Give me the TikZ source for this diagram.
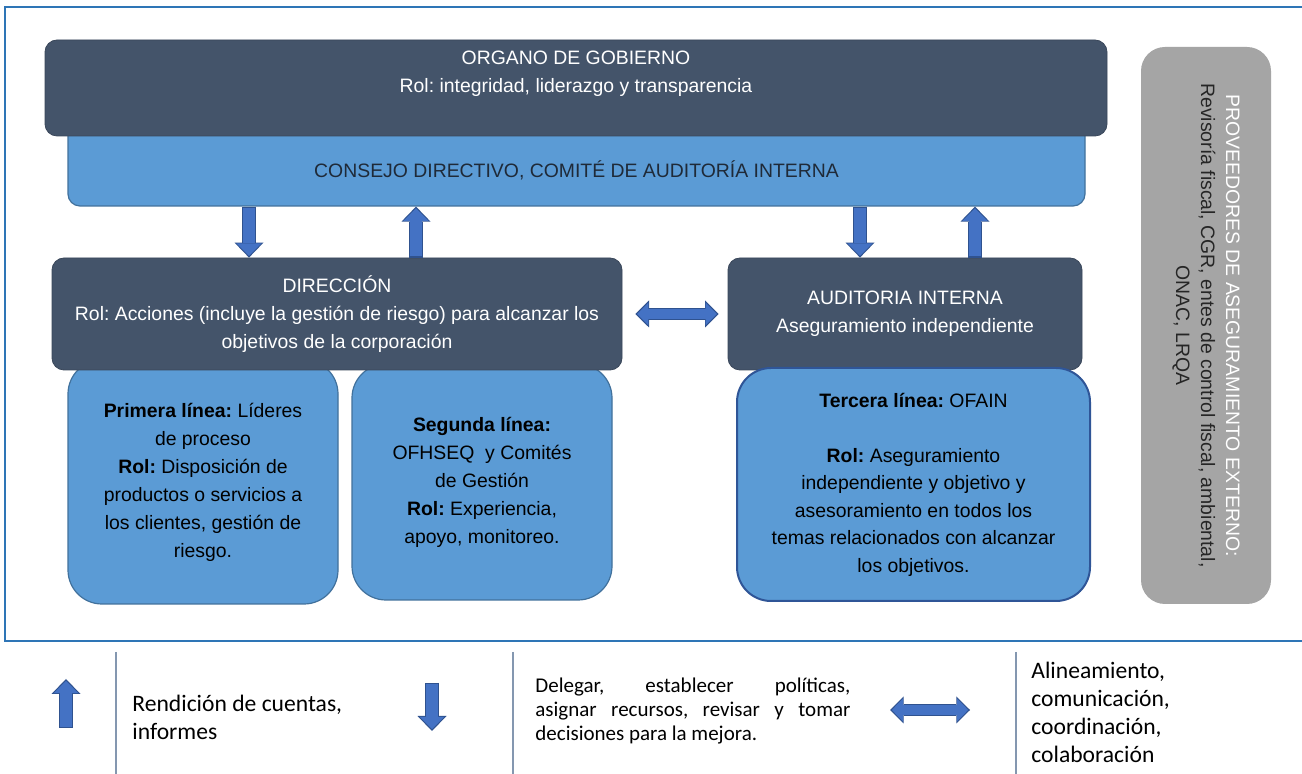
\documentclass[tikz,border=0pt]{standalone}
\usepackage{fontspec}
\setmainfont{Liberation Sans}
\newfontfamily\legendfont{Carlito}
\usetikzlibrary{arrows.meta}
\frenchspacing

\definecolor{slate}{HTML}{44546A}
\definecolor{skyblue}{HTML}{5B9BD5}
\definecolor{skyedge}{HTML}{41719C}
\definecolor{frameblue}{HTML}{2E75B6}
\definecolor{arrfill}{HTML}{4472C4}
\definecolor{arredge}{HTML}{2F528F}
\definecolor{lineblue}{HTML}{2F5597}
\definecolor{boxgray}{HTML}{A5A5A5}
\definecolor{sepgray}{HTML}{8497B0}
\definecolor{inktext}{HTML}{1F2A38}

\tikzset{
  boxfont/.style={font=\fontsize{9.7}{14}\selectfont},
  darkbox/.style={fill=slate, draw=slate!85!black, rounded corners=6pt, inner sep=0pt,
    text=white, align=center, boxfont},
  lightbox/.style={fill=skyblue, draw=skyedge, line width=0.6pt, rounded corners=17pt,
    inner sep=0pt, align=center, boxfont},
  graybox/.style={fill=boxgray, rounded corners=12pt, inner sep=0pt, align=center,
    text=black!85, font=\fontsize{9.7}{12.5}\selectfont},
  legendtext/.style={anchor=west, align=left, inner sep=0pt, font=\legendfont\fontsize{11.8}{14}\selectfont},
  fat/.style={line width=6pt, draw=arrfill, shorten <=0.6pt, shorten >=0.9pt,
    -{Triangle[length=6.2pt,width=12.4pt,line width=0pt]},
    preaction={draw=arredge, line width=7.2pt, shorten <=0pt, shorten >=0pt,
      -{Triangle[length=7.5pt,width=14.5pt,line width=0pt]}}},
  fatboth/.style={line width=5pt, draw=arrfill, shorten <=0.9pt, shorten >=0.9pt,
    {Triangle[length=5.6pt,width=11.4pt,line width=0pt]}-{Triangle[length=5.6pt,width=11.4pt,line width=0pt]},
    preaction={draw=arredge, line width=6.2pt, shorten <=0pt, shorten >=0pt,
      {Triangle[length=6.8pt,width=13.5pt,line width=0pt]}-{Triangle[length=6.8pt,width=13.5pt,line width=0pt]}}},
  sepline/.style={draw=sepgray, line width=0.8pt}
}

\begin{document}
\begin{tikzpicture}[x=0.5pt, y=-0.5pt]

\useasboundingbox (0,0) rectangle (1302,774);
\fill[white] (0,0) rectangle (1302,774);

\draw[frameblue, line width=1.3pt] (5,7) rectangle (1310,641);

\node (consejo) at (576.5,159) [lightbox, rounded corners=6pt, minimum width=508.5pt, minimum height=47pt] {};
\node (organo) at (576,88) [darkbox, minimum width=531pt, minimum height=48pt] {};
\node (organotxt) at (576,74) [text=white, align=center, boxfont] {ORGANO DE GOBIERNO\\Rol: integridad, liderazgo y transparencia};
\node (consejotxt) at (576.5,170) [text=inktext, boxfont] {CONSEJO DIRECTIVO, COMITÉ DE AUDITORÍA INTERNA};

\node (externo) at (1206,325.5) [graybox, rotate=-90, minimum width=278.5pt, minimum height=65pt]
  {\textcolor{white}{PROVEEDORES DE ASEGURAMIENTO EXTERNO:}\\Revisoría fiscal, CGR, entes de control fiscal, ambiental,\\ONAC, LRQA};

\node (primera) at (203,482) [lightbox, minimum width=135pt, minimum height=122pt]
  {\textbf{Primera línea:} Líderes\\de proceso\\\textbf{Rol:} Disposición de\\productos o servicios a\\los clientes, gestión de\\riesgo.};
\node (segunda) at (482,482) [lightbox, minimum width=130pt, minimum height=118pt]
  {\textbf{Segunda línea:}\\OFHSEQ\ \ y Comités\\de Gestión\\\textbf{Rol:} Experiencia,\\apoyo, monitoreo.};

\node (direccion) at (337,314) [darkbox, minimum width=285pt, minimum height=56pt]
  {DIRECCIÓN\\Rol: Acciones (incluye la gestión de riesgo) para alcanzar los\\objetivos de la corporación};
\node (auditoria) at (905,314) [darkbox, minimum width=177pt, minimum height=56pt]
  {AUDITORIA INTERNA\\Aseguramiento independiente};

\node (tercera) at (913.5,484.5) [lightbox, draw=lineblue, line width=1pt, minimum width=176.5pt, minimum height=116.5pt,
  font=\fontsize{9.7}{13.75}\selectfont]
  {\textbf{Tercera línea:} OFAIN\\[13.75pt]\textbf{Rol:} Aseguramiento\\independiente y objetivo y\\asesoramiento en todos los\\temas relacionados con alcanzar\\los objetivos.};

\coordinate (dl) at (249,0);
\coordinate (ul) at (416,0);
\coordinate (dr) at (860,0);
\coordinate (ur) at (975,0);
\draw[fat] (consejo.south -| dl) -- (direccion.north -| dl);
\draw[fat] (direccion.north -| ul) -- (consejo.south -| ul);
\draw[fat] (consejo.south -| dr) -- (auditoria.north -| dr);
\draw[fat] (auditoria.north -| ur) -- (consejo.south -| ur);
\draw[fatboth] ([xshift=6.5pt]direccion.east) -- ([xshift=-4.5pt]auditoria.west);

% leyenda
\draw[sepline] (116,652) -- (116,776);
\draw[sepline] (513,652) -- (513,776);
\draw[sepline] (1016,652) -- (1016,776);

\coordinate (upa) at (66,728);
\coordinate (upb) at (66,679);
\draw[fat] (upa) -- (upb);
\node (rendicion) at (132,717) [legendtext] {Rendición de cuentas,\\informes};

\coordinate (downa) at (432,683);
\coordinate (downb) at (432,731);
\draw[fat] (downa) -- (downb);
\node (delegar) at (535,711) [legendtext, font=\legendfont\fontsize{10.5}{12}\selectfont]
  {\makebox[157.5pt][s]{Delegar, establecer políticas,}\\\makebox[157.5pt][s]{asignar recursos, revisar y tomar}\\decisiones para la mejora.};

\coordinate (botha) at (890,710);
\coordinate (bothb) at (970,710);
\draw[fatboth] (botha) -- (bothb);
\node (alineamiento) at (1031,712) [legendtext] {Alineamiento,\\comunicación,\\coordinación,\\colaboración};

\end{tikzpicture}
\end{document}
